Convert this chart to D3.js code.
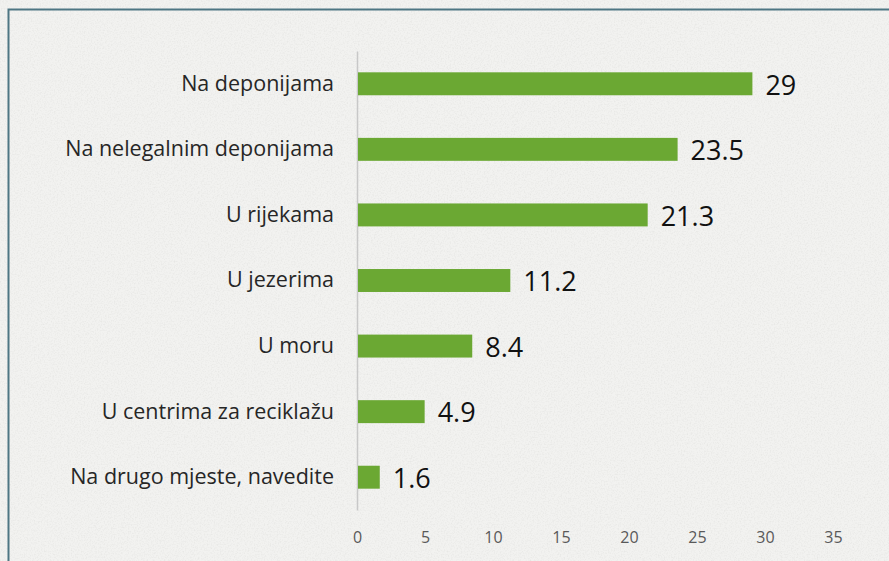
<!DOCTYPE html>
<html>
<head>
<meta charset="utf-8">
<script src="https://cdn.jsdelivr.net/npm/d3@7"></script>
<style>
  body { margin: 0; background: #f1f1ef; }
  svg { display: block; }
</style>
</head>
<body>
<div id="chart"></div>
<script>
// Data
var categories = ["Na deponijama", "Na nelegalnim deponijama", "U rijekama", "U jezerima",
  "U moru", "U centrima za reciklažu", "Na drugo mjeste, navedite"];
var values = [29, 23.5, 21.3, 11.2, 8.4, 4.9, 1.6];
var tickValues = [0, 5, 10, 15, 20, 25, 30, 35];

// svg container
var svgWidth = 889;
var svgHeight = 561;

var margin = { top: 51, right: 56, bottom: 51, left: 357 };
var chartWidth = svgWidth - margin.left - margin.right;
var chartHeight = svgHeight - margin.top - margin.bottom;

var svg = d3.select("#chart").append("svg")
  .attr("width", svgWidth)
  .attr("height", svgHeight);

// paper texture
var defs = svg.append("defs");
var filter = defs.append("filter").attr("id", "paper")
  .attr("x", 0).attr("y", 0).attr("width", "100%").attr("height", "100%");
filter.append("feTurbulence")
  .attr("type", "fractalNoise")
  .attr("baseFrequency", 0.7)
  .attr("numOctaves", 3)
  .attr("result", "noise");
filter.append("feColorMatrix")
  .attr("type", "matrix")
  .attr("values", "0 0 0 0 0.55  0 0 0 0 0.55  0 0 0 0 0.53  0 0 0 -1.4 0.8");

svg.append("rect")
  .attr("width", svgWidth).attr("height", svgHeight)
  .attr("fill", "#f2f2f0");
svg.append("rect")
  .attr("width", svgWidth).attr("height", svgHeight)
  .attr("filter", "url(#paper)")
  .attr("opacity", 0.35);

// frame
svg.append("path")
  .attr("d", "M8.5," + svgHeight + " V9.5 H" + svgWidth)
  .attr("fill", "none")
  .attr("stroke", "#4e7683")
  .attr("stroke-width", 2);

var chartGroup = svg.append("g")
  .attr("transform", "translate(" + margin.left + "," + margin.top + ")");

var xScale = d3.scaleLinear()
  .domain([0, 35])
  .range([0, 476]);

var yScale = d3.scaleBand()
  .domain(categories)
  .range([0, chartHeight])
  .paddingInner(0.65)
  .paddingOuter(0.325);

// x axis (labels only)
var bottomAxis = d3.axisBottom(xScale)
  .tickValues(tickValues)
  .tickSize(0)
  .tickPadding(0);

var xAxis = chartGroup.append("g")
  .attr("transform", "translate(0," + (chartHeight + 19) + ")")
  .call(bottomAxis);
xAxis.select(".domain").remove();
xAxis.selectAll("text")
  .attr("dy", "0.85em")
  .style("font-family", "'Open Sans', 'Noto Sans', sans-serif")
  .style("font-size", "16px")
  .style("fill", "#595959");

// y axis
var leftAxis = d3.axisLeft(yScale).tickSize(0).tickPadding(23);
var yAxis = chartGroup.append("g").call(leftAxis);
yAxis.select(".domain")
  .attr("stroke", "#c8c8c8")
  .attr("stroke-width", 1.5);
yAxis.selectAll("text")
  .style("font-family", "'Open Sans', 'Noto Sans', sans-serif")
  .style("font-size", "21.5px")
  .style("fill", "#262626");

// bars
chartGroup.selectAll(".bar")
  .data(values)
  .enter()
  .append("rect")
  .attr("class", "bar")
  .attr("x", xScale(0) + 1)
  .attr("y", function(d, i) { return yScale(categories[i]); })
  .attr("width", function(d) { return xScale(d) - xScale(0); })
  .attr("height", yScale.bandwidth())
  .attr("fill", "#6ba833");

// value labels
chartGroup.selectAll(".value")
  .data(values)
  .enter()
  .append("text")
  .attr("class", "value")
  .attr("x", function(d) { return xScale(d) + 14; })
  .attr("y", function(d, i) { return yScale(categories[i]) + yScale.bandwidth() / 2; })
  .attr("dy", "0.4em")
  .style("font-family", "'Open Sans', 'Noto Sans', sans-serif")
  .style("font-size", "27px")
  .style("fill", "#111")
  .text(function(d) { return d; });
</script>
</body>
</html>
